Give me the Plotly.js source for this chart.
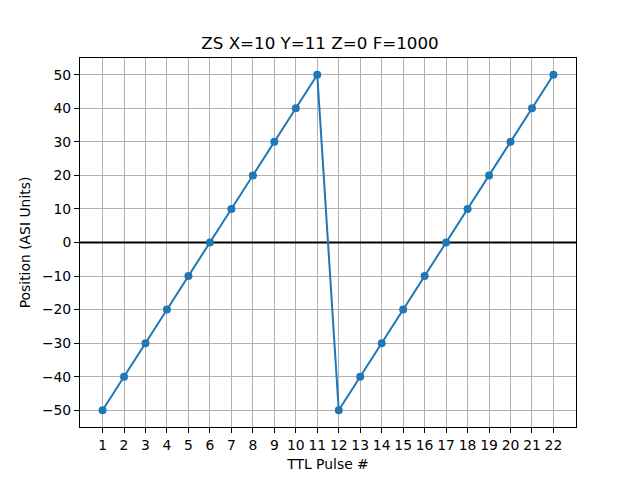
<!DOCTYPE html>
<html>
<head>
<meta charset="utf-8">
<script src="https://cdn.plot.ly/plotly-3.0.1.min.js"></script>
<style>html,body{margin:0;padding:0;background:#fff}</style>
</head>
<body>
<div id="chart" style="width:640px;height:480px"></div>
<script>
const pulses = [1,2,3,4,5,6,7,8,9,10,11,12,13,14,15,16,17,18,19,20,21,22];
const positions = [-50,-40,-30,-20,-10,0,10,20,30,40,50,-50,-40,-30,-20,-10,0,10,20,30,40,50];
const yTicks = [-50,-40,-30,-20,-10,0,10,20,30,40,50];
const zeroLevel = 0;
const titleText = "ZS X=10 Y=11 Z=0 F=1000";
const xLabel = "TTL Pulse #";
const yLabel = "Position (ASI Units)";

const xRange = [-0.05, 23.05];
const yRange = [-55, 55];

const font = {family: "DejaVu Sans", size: 13.9, color: "#000"};
const axisCommon = {
  showline: true, linecolor: "#000", linewidth: 1, mirror: true,
  ticks: "outside", ticklen: 5, tickwidth: 1, tickcolor: "#000",
  showgrid: true, gridcolor: "#b0b0b0", gridwidth: 1,
  zeroline: false, tickfont: font
};
const data = [
  {x: xRange, y: [zeroLevel, zeroLevel], type: "scatter", mode: "lines",
   line: {color: "#000", width: 2}, showlegend: false, hoverinfo: "skip"},
  {x: pulses, y: positions, type: "scatter", mode: "lines+markers",
   line: {color: "#1f77b4", width: 2}, marker: {color: "#1f77b4", size: 8},
   showlegend: false, cliponaxis: false}
];
const layout = {
  width: 640, height: 480,
  margin: {l: 80, r: 64, t: 58, b: 53},
  paper_bgcolor: "#fff", plot_bgcolor: "#fff",
  font: font,
  title: {text: titleText, font: {family: "DejaVu Sans", size: 16.7, color: "#000"}, x: 0.5, xanchor: "center", y: 1 - 43/480, yanchor: "middle"},
  xaxis: Object.assign({}, axisCommon, {
    range: xRange, tickmode: "array", tickvals: pulses,
    title: {text: xLabel, font: font, standoff: 7}
  }),
  yaxis: Object.assign({}, axisCommon, {
    range: yRange, tickmode: "array", tickvals: yTicks,
    title: {text: yLabel, font: font, standoff: 8}
  })
};
Plotly.newPlot("chart", data, layout, {displayModeBar: false, staticPlot: true});
</script>
</body>
</html>
